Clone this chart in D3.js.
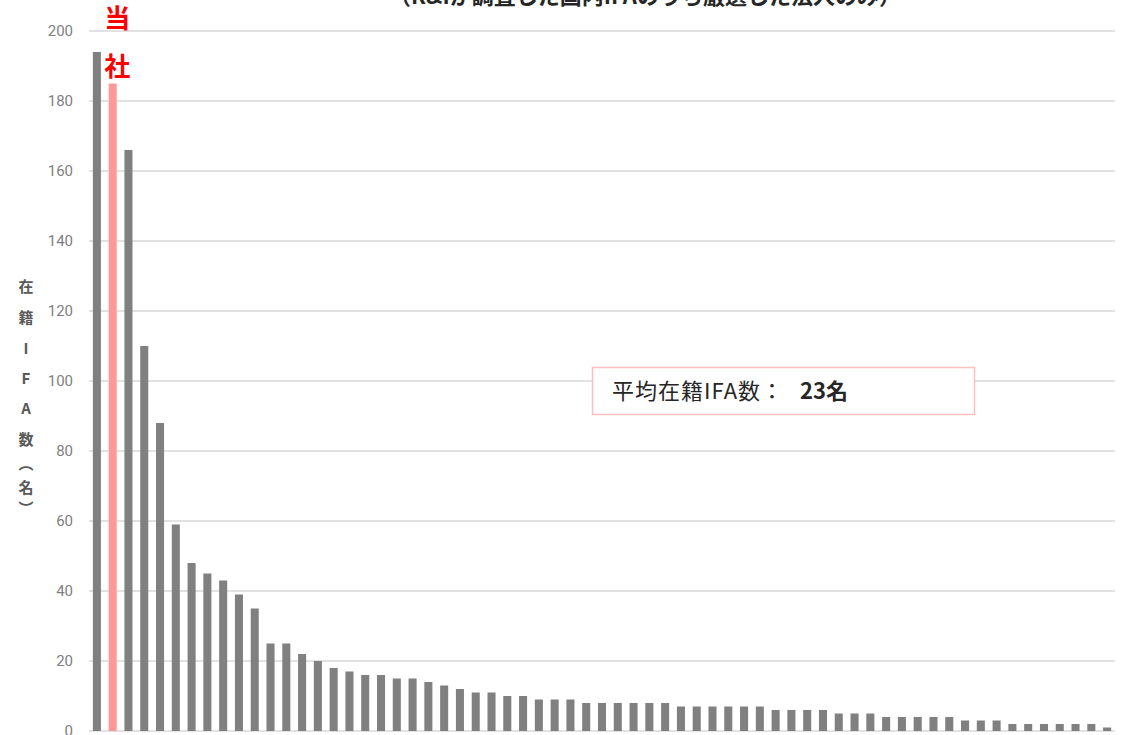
<!DOCTYPE html>
<html lang="ja">
<head>
<meta charset="utf-8">
<script src="https://cdn.jsdelivr.net/npm/d3@7"></script>
<style>
  html, body { margin: 0; padding: 0; background: #fff; }
  svg { display: block; }
</style>
</head>
<body>
<svg id="chart" width="1124" height="735"></svg>
<script>
// Registered IFA headcount per firm, sorted descending (firm #2 is ours)
const firms = d3.range(1, 66).map(i => "法人" + i);
const ifaCounts = [
  194, 185, 166, 110, 88, 59, 48, 45, 43, 39,
  35, 25, 25, 22, 20, 18, 17, 16, 16, 15,
  15, 14, 13, 12, 11, 11, 10, 10, 9, 9,
  9, 8, 8, 8, 8, 8, 8, 7, 7, 7,
  7, 7, 7, 6, 6, 6, 6, 5, 5, 5,
  4, 4, 4, 4, 4, 3, 3, 3, 2, 2,
  2, 2, 2, 2, 1
];
const ownFirmIndex = 1;
const ownFirmLabel = ["当", "社"];
const yTicks = [0, 20, 40, 60, 80, 100, 120, 140, 160, 180, 200];
const titleText = "（R&Iが調査した国内IFAのうち厳選した法人のみ）";
const yLabelChars = ["在", "籍", "I", "F", "A", "数", "︵", "名", "︶"];
const avgLabel = "平均在籍IFA数：";
const avgValue = Math.round(d3.mean(ifaCounts)) + "名";

const svg = d3.select("#chart");
const JP = "'Noto Sans CJK JP', 'Noto Sans', sans-serif";

const x = d3.scaleBand().domain(firms).range([89, 1115]).paddingInner(0.49).paddingOuter(0.245);
const y = d3.scaleLinear().domain([0, 200]).range([731, 31]);

// Title (top edge of the frame clips it)
svg.append("text")
  .attr("x", 645).attr("y", 4)
  .attr("text-anchor", "middle")
  .attr("font-family", JP).attr("font-weight", 700)
  .attr("font-size", 22).attr("fill", "#262626")
  .text(titleText);

// Horizontal gridlines
svg.append("g").selectAll("line").data(yTicks).join("line")
  .attr("x1", 89).attr("x2", 1115)
  .attr("y1", d => y(d)).attr("y2", d => y(d))
  .attr("stroke", "#d9d9d9").attr("stroke-width", 1.3);

// Y axis tick labels
const yAxis = d3.axisLeft(y).tickValues(yTicks).tickSize(0).tickPadding(0);
const gy = svg.append("g").attr("transform", "translate(73,0)").call(yAxis);
gy.select(".domain").remove();
gy.selectAll("text")
  .attr("font-family", "Roboto, 'Noto Sans', sans-serif")
  .attr("font-size", 15).attr("fill", "#808080");

// Bars
svg.append("g").selectAll("rect").data(ifaCounts).join("rect")
  .attr("x", (d, i) => x(firms[i]))
  .attr("width", x.bandwidth())
  .attr("y", d => y(d))
  .attr("height", d => y(0) - y(d))
  .attr("fill", (d, i) => i === ownFirmIndex ? "#ff9999" : "#808080");

// Own-firm callout above its bar
const ownCx = x(firms[ownFirmIndex]) + x.bandwidth() / 2 + 4.5;
svg.append("g").selectAll("text").data(ownFirmLabel).join("text")
  .attr("x", ownCx)
  .attr("y", (d, i) => 28 + i * 48)
  .attr("text-anchor", "middle")
  .attr("font-family", JP).attr("font-weight", 700)
  .attr("font-size", 26).attr("fill", "#ff0000")
  .text(d => d);

// Vertical y-axis title, one character per line
const yLabelStep = [0, 31, 31, 30, 30, 31, 24, 24, 21];
let acc = 287;
const yLabelPos = yLabelStep.map(s => (acc += s));
svg.append("g").selectAll("text").data(yLabelChars).join("text")
  .attr("x", 26)
  .attr("y", (d, i) => yLabelPos[i])
  .attr("dy", "0.36em")
  .attr("text-anchor", "middle")
  .attr("font-family", JP).attr("font-weight", 700)
  .attr("font-size", 15).attr("fill", "#595959")
  .text(d => d);

// Average annotation box
const box = svg.append("g");
box.append("rect")
  .attr("x", 592.5).attr("y", 367.5).attr("width", 382).attr("height", 47)
  .attr("fill", "#fff").attr("stroke", "#ffbfbf").attr("stroke-width", 1.5);
const t = box.append("text")
  .attr("x", 612).attr("y", 399)
  .attr("font-family", JP).attr("font-size", 22).attr("fill", "#262626");
t.append("tspan").attr("letter-spacing", 1).text(avgLabel);
t.append("tspan").attr("x", 800).attr("font-weight", 700).text(avgValue);
</script>
</body>
</html>
